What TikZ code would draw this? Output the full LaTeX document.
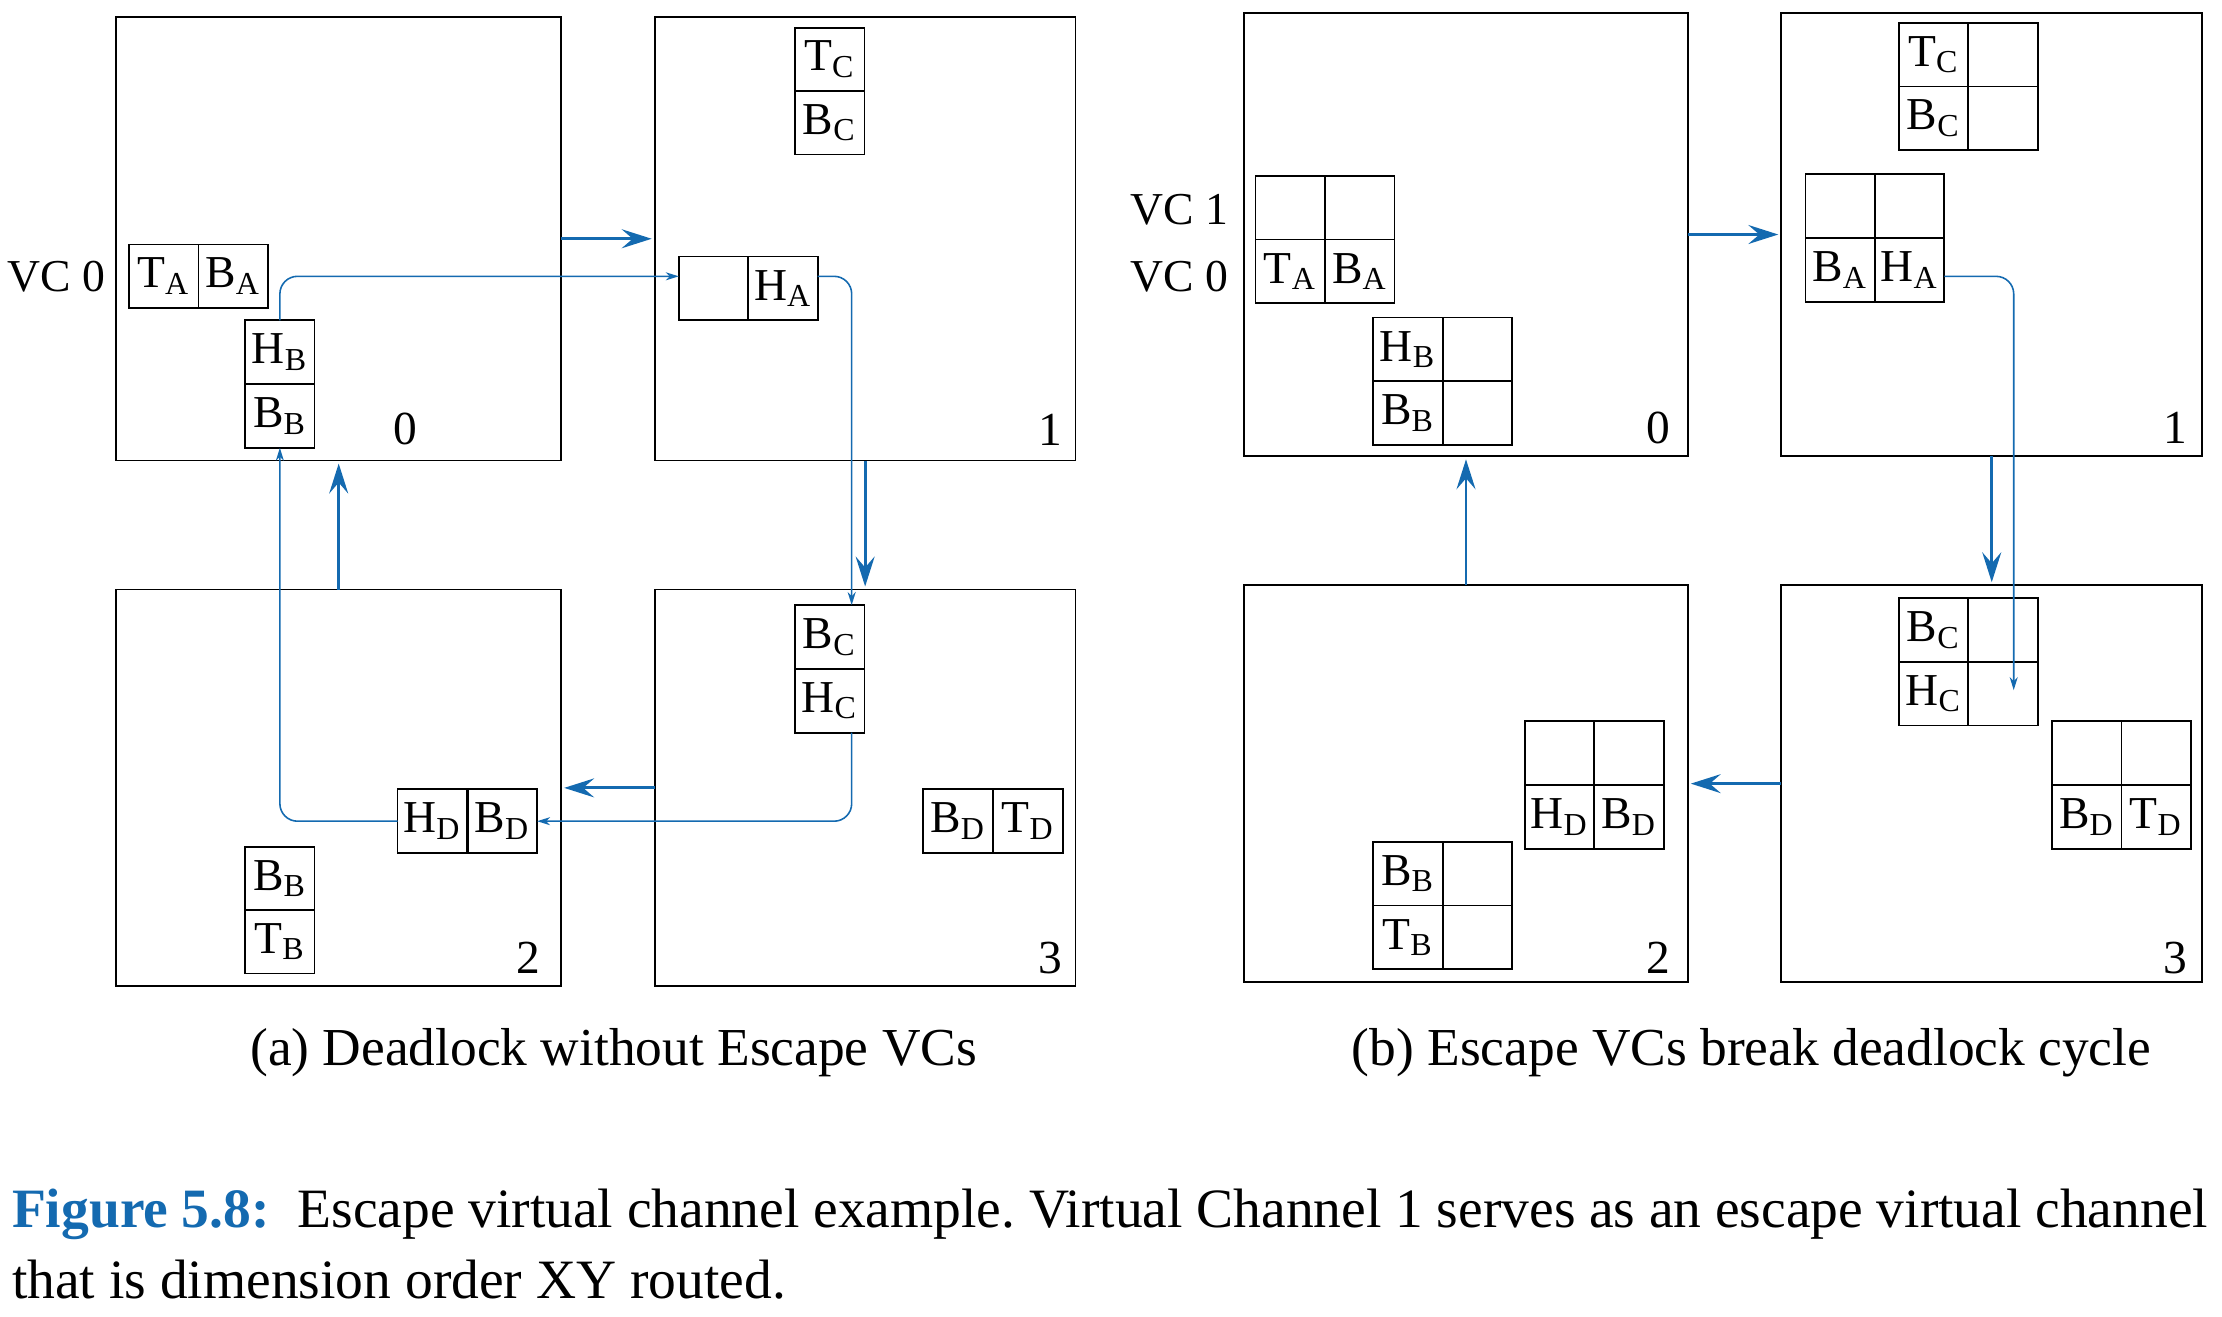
\documentclass[tikz,border=0pt]{standalone}
\usepackage{fontspec}
\setmainfont{Liberation Serif}
\usetikzlibrary{arrows.meta,fit}
\definecolor{vcblue}{RGB}{20,106,176}
\frenchspacing
\begin{document}
\begin{tikzpicture}[x=0.0141709cm,y=-0.0141709cm,
  router/.style={draw, line width=0.5pt, inner sep=0pt, outer sep=0pt},
  cell/.style={draw, line width=0.5pt, minimum width=0.6944cm, minimum height=0.6377cm,
    inner sep=0pt, outer sep=0pt, font=\fontsize{13}{15}\selectfont},
  num/.style={font=\fontsize{13.5}{15}\selectfont, inner sep=0pt},
  vclab/.style={font=\fontsize{13}{15}\selectfont, inner sep=0pt},
  capt/.style={font=\fontsize{15.2}{18}\selectfont, inner sep=0pt},
  figcapt/.style={font=\fontsize{15.8}{18}\selectfont, inner sep=0pt},
  thickarrow/.style={draw=vcblue, line width=0.8pt,
    -{Stealth[length=3mm,width=1.9mm,inset=1.1mm]}, shorten >=0.03cm},
  thinarrow/.style={draw=vcblue, line width=0.45pt, rounded corners=5pt,
    -{Stealth[length=1.3mm,width=0.8mm,inset=0.4mm]}}
]
\useasboundingbox (0,0) rectangle (1568,929);

% ---------------- panel (a) ----------------
\node[router, fit={(82,12)(396,325)}] (a0) {};
\node[router, fit={(462,12)(759,325)}] (a1) {};
\node[router, fit={(82,416)(396,696)}] (a2) {};
\node[router, fit={(462,416)(759,696)}] (a3) {};

\node[vclab] (aVC0) at (40,195) {VC 0};

\node[cell] (aTA) at (115.5,195) {T\textsubscript{A}};
\node[cell] (aBA) at (164.5,195) {B\textsubscript{A}};
\node[cell] (aHB) at (197.5,248.5) {H\textsubscript{B}};
\node[cell] (aBB) at (197.5,293.5) {B\textsubscript{B}};
\node[num] (an0) at (286,303) {0};

\node[cell] (aTC) at (585.5,42) {T\textsubscript{C}};
\node[cell] (aBC) at (585.5,86.5) {B\textsubscript{C}};
\node[cell] (aE) at (503.5,203.5) {};
\node[cell] (aHA) at (552.5,203.5) {H\textsubscript{A}};
\node[num] (an1) at (741,303) {1};

\node[cell] (aBC3) at (585.5,449.5) {B\textsubscript{C}};
\node[cell] (aHC) at (585.5,494.5) {H\textsubscript{C}};
\node[cell] (aBD3) at (676,579.5) {B\textsubscript{D}};
\node[cell] (aTD) at (725.5,579.5) {T\textsubscript{D}};
\node[num] (an3) at (741,676) {3};

\node[cell] (aHD) at (305,579.5) {H\textsubscript{D}};
\node[cell] (aBD2) at (354.5,579.5) {B\textsubscript{D}};
\node[cell] (aBB2) at (197.5,620) {B\textsubscript{B}};
\node[cell] (aTB) at (197.5,664.5) {T\textsubscript{B}};
\node[num] (an2) at (373,676) {2};

\draw[thickarrow] (a0.east) -- (a0.east -| a1.west);
\draw[thickarrow] (a1.south) -- (a1.south |- a3.north);
\draw[thickarrow] (a3.west) -- (a3.west -| a2.east);
\draw[thickarrow] (a2.north) -- (a2.north |- a0.south);

\draw[thinarrow] (aHB.north) |- (aE.west |- aTA.east);
\draw[thinarrow] (aHA.east |- aTA.east) -| ([xshift=0.2197cm]aBC3.north);
\draw[thinarrow] ([xshift=0.2197cm]aHC.south) |- (aBD2.east);
\draw[thinarrow] (aHD.west) -| (aBB.south);

% ---------------- panel (b) ----------------
\node[router, fit={(878,9)(1191,322)}] (b0) {};
\node[router, fit={(1257,9)(1554,322)}] (b1) {};
\node[router, fit={(878,413)(1191,693)}] (b2) {};
\node[router, fit={(1257,413)(1554,693)}] (b3) {};

\node[vclab] (bVC1) at (832,148) {VC 1};
\node[vclab] (bVC0) at (832,195) {VC 0};

\node[cell] (bA11) at (910.5,146.5) {};
\node[cell] (bA12) at (959.5,146.5) {};
\node[cell] (bTA) at (910.5,191.5) {T\textsubscript{A}};
\node[cell] (bBA) at (959.5,191.5) {B\textsubscript{A}};
\node[cell] (bHB) at (993.5,246.5) {H\textsubscript{B}};
\node[cell] (bHBr) at (1042.5,246.5) {};
\node[cell] (bBB) at (993.5,291.5) {B\textsubscript{B}};
\node[cell] (bBBr) at (1042.5,291.5) {};
\node[num] (bn0) at (1170,302) {0};

\node[cell] (bTC) at (1364.5,38.5) {T\textsubscript{C}};
\node[cell] (bTCr) at (1413.5,38.5) {};
\node[cell] (bBC) at (1364.5,83.5) {B\textsubscript{C}};
\node[cell] (bBCr) at (1413.5,83.5) {};
\node[cell] (bV11) at (1298.5,145.5) {};
\node[cell] (bV12) at (1347.5,145.5) {};
\node[cell] (bBA1) at (1298.5,190.5) {B\textsubscript{A}};
\node[cell] (bHA) at (1347.5,190.5) {H\textsubscript{A}};
\node[num] (bn1) at (1535,302) {1};

\node[cell] (bBC3) at (1364.5,444.5) {B\textsubscript{C}};
\node[cell] (bBC3r) at (1413.5,444.5) {};
\node[cell] (bHC) at (1364.5,489.5) {H\textsubscript{C}};
\node[cell] (bHCr) at (1413.5,489.5) {};
\node[cell] (bD11) at (1472.5,531.5) {};
\node[cell] (bD12) at (1521.5,531.5) {};
\node[cell] (bBD3) at (1472.5,576.5) {B\textsubscript{D}};
\node[cell] (bTD) at (1521.5,576.5) {T\textsubscript{D}};
\node[num] (bn3) at (1535,676) {3};

\node[cell] (bE11) at (1100.5,531.5) {};
\node[cell] (bE12) at (1149.5,531.5) {};
\node[cell] (bHD) at (1100.5,576.5) {H\textsubscript{D}};
\node[cell] (bBD2) at (1149.5,576.5) {B\textsubscript{D}};
\node[cell] (bBB2) at (993.5,616.5) {B\textsubscript{B}};
\node[cell] (bBB2r) at (1042.5,616.5) {};
\node[cell] (bTB) at (993.5,661.5) {T\textsubscript{B}};
\node[cell] (bTBr) at (1042.5,661.5) {};
\node[num] (bn2) at (1170,676) {2};

\draw[thickarrow] (b0.east) -- (b0.east -| b1.west);
\draw[thickarrow] (b1.south) -- (b1.south |- b3.north);
\draw[thickarrow] (b3.west) -- (b3.west -| b2.east);
\draw[thickarrow] (b2.north) -- (b2.north |- b0.south);

\coordinate (bEnd) at (1421,487);
\draw[thinarrow] ([yshift=-0.064cm]bHA.east) -| (bEnd);

% ---------------- captions ----------------
\node[capt, anchor=base] (capa) at (433,752) {(a) Deadlock without Escape VCs};
\node[capt, anchor=base] (capb) at (1236,752) {(b) Escape VCs break deadlock cycle};
\node[figcapt, anchor=base west] (fig1) at (8,866)
  {\hbox to 21.965cm{\textcolor{vcblue}{\textbf{Figure 5.8:}}\hspace{0.5em}Escape virtual channel example. Virtual Channel 1 serves as an escape virtual channel}};
\node[figcapt, anchor=base west] (fig2) at (8,916) {that is dimension order XY routed.};
\end{tikzpicture}
\end{document}
